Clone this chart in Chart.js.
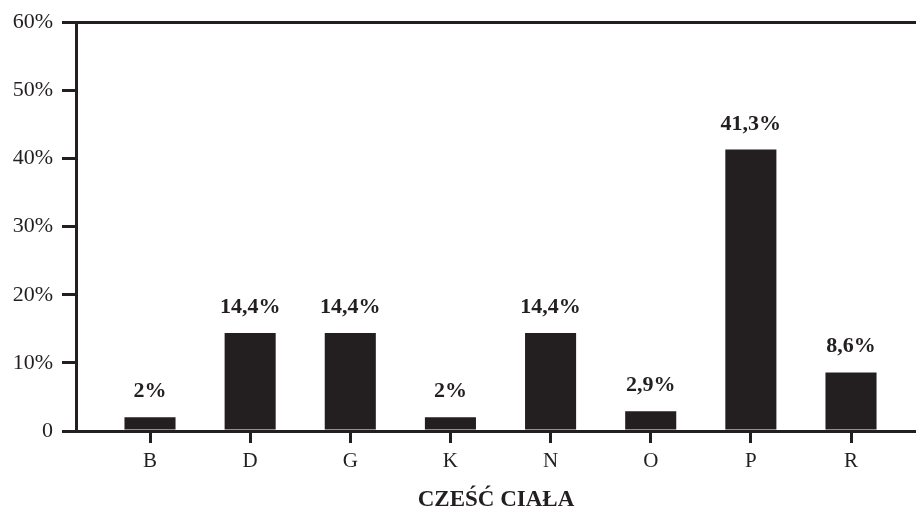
<!DOCTYPE html>
<html>
<head>
<meta charset="utf-8">
<script src="https://cdn.jsdelivr.net/npm/chart.js@4.4.1/dist/chart.umd.min.js"></script>
<style>
  html, body { margin: 0; padding: 0; background: #ffffff; }
  #wrap { width: 916px; height: 508px; position: relative; }
</style>
</head>
<body>
<div id="wrap"><canvas id="chart" width="916" height="508"></canvas></div>
<script>
// Body-part categories and their share of cases (%)
const categories = ['B', 'D', 'G', 'K', 'N', 'O', 'P', 'R'];
const shares = [2, 14.4, 14.4, 2, 14.4, 2.9, 41.3, 8.6];
const yTicks = [0, 10, 20, 30, 40, 50, 60];
const axisTitle = 'CZEŚĆ CIAŁA';

const INK = '#231f20';
const SERIF = "'Liberation Serif', 'Times New Roman', serif";

const fmtPct = v => String(v).replace('.', ',') + '%';

// Percentage labels above each bar
const valueLabels = {
  id: 'valueLabels',
  afterDatasetsDraw(chart) {
    const ctx = chart.ctx;
    const meta = chart.getDatasetMeta(0);
    ctx.save();
    ctx.font = 'bold 22px ' + SERIF;
    ctx.fillStyle = INK;
    ctx.textAlign = 'center';
    ctx.textBaseline = 'alphabetic';
    meta.data.forEach((bar, i) => {
      ctx.fillText(fmtPct(shares[i]), bar.x, bar.y - 20);
    });
    ctx.restore();
  }
};

new Chart(document.getElementById('chart'), {
  type: 'bar',
  data: {
    datasets: [{
      data: shares.map((v, i) => ({ x: i, y: v })),
      backgroundColor: INK,
      borderWidth: 0,
      barPercentage: 0.51,
      categoryPercentage: 1
    }]
  },
  options: {
    responsive: false,
    animation: false,
    devicePixelRatio: 1,
    layout: { padding: { top: 20, right: 0, left: 0, bottom: 0 } },
    plugins: { legend: { display: false }, tooltip: { enabled: false } },
    scales: {
      x: {
        type: 'linear',
        offset: false,
        min: -0.739,
        max: 7.649,
        afterBuildTicks: s => { s.ticks = categories.map((_, i) => ({ value: i })); },
        afterFit: s => { s.height = 77; },
        ticks: {
          autoSkip: false,
          maxRotation: 0,
          padding: 6,
          color: INK,
          font: { family: SERIF, size: 21 },
          callback: v => categories[v] ?? ''
        },
        grid: {
          offset: false,
          drawOnChartArea: false,
          drawTicks: true,
          tickLength: 12,
          tickColor: INK,
          lineWidth: 3
        },
        border: { display: true, color: INK, width: 3 },
        title: {
          display: true,
          text: axisTitle,
          color: INK,
          font: { family: SERIF, size: 23, weight: 'bold' },
          padding: { top: 10, bottom: -6 }
        }
      },
      y: {
        min: 0,
        max: 60,
        afterBuildTicks: s => { s.ticks = yTicks.map(v => ({ value: v })); },
        afterFit: s => { s.width = 76; },
        ticks: {
          padding: 9,
          color: INK,
          font: { family: SERIF, size: 22 },
          callback: v => (v === 0 ? '0' : v + '%')
        },
        grid: {
          drawOnChartArea: true,
          drawTicks: true,
          tickLength: 14,
          tickColor: INK,
          lineWidth: 3,
          color: c => (c.tick && c.tick.value === 60 ? INK : 'rgba(0,0,0,0)')
        },
        border: { display: true, color: INK, width: 3 }
      }
    }
  },
  plugins: [valueLabels]
});
</script>
</body>
</html>
